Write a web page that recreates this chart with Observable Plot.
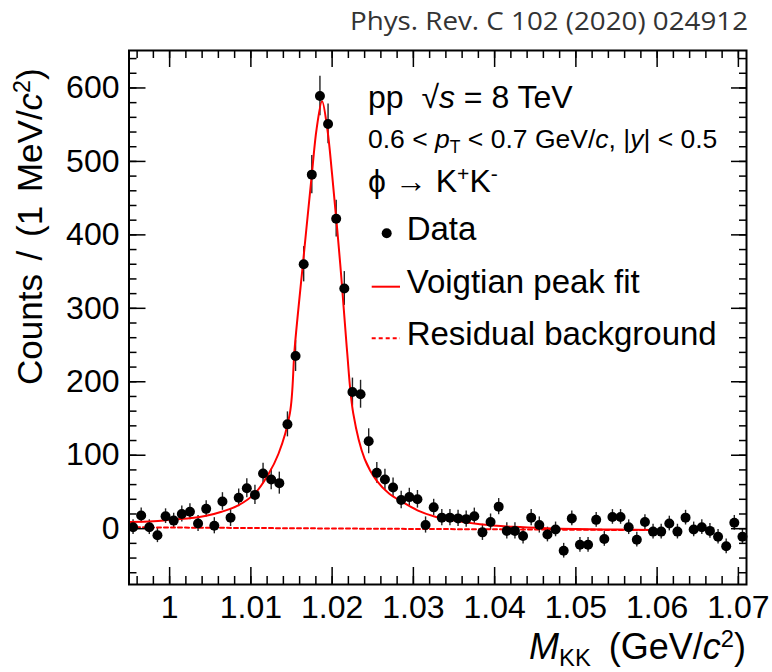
<!DOCTYPE html>
<html><head><meta charset="utf-8">
<script src="https://cdn.jsdelivr.net/npm/d3@7"></script>
<script src="https://cdn.jsdelivr.net/npm/@observablehq/plot@0.6"></script>
<style>
body{margin:0;background:#fff;}
#chart{position:relative;width:772px;height:672px;}
</style>
</head><body><div id="chart"></div>
<script>
// ---- data (bin centres in GeV/c^2, counts per 1 MeV, statistical errors) ----
const mass = [0.9955,0.9965,0.9975,0.9985,0.9995,1.0005,1.0015,1.0025,1.0035,1.0045,
1.0055,1.0065,1.0075,1.0085,1.0095,1.0105,1.0115,1.0125,1.0135,1.0145,
1.0155,1.0165,1.0175,1.0185,1.0195,1.0205,1.0215,1.0225,1.0235,1.0245,
1.0255,1.0265,1.0275,1.0285,1.0295,1.0305,1.0315,1.0325,1.0335,1.0345,
1.0355,1.0365,1.0375,1.0385,1.0395,1.0405,1.0415,1.0425,1.0435,1.0445,
1.0455,1.0465,1.0475,1.0485,1.0495,1.0505,1.0515,1.0525,1.0535,1.0545,
1.0555,1.0565,1.0575,1.0585,1.0595,1.0605,1.0615,1.0625,1.0635,1.0645,
1.0655,1.0665,1.0675,1.0685,1.0695,1.0705];
const counts = [2,18,2,-9,17,11,20,23,7,27,
4,37,15,42,55,46,75,67,62,142,
235,360,482,589,551,422,327,186,183,119,
76,67,56,39,43,40,5,29,15,15,
14,13,17,-5,9,30,-3,-3,-10,15,
5,-8,-1,-30,14,-22,-22,12,-14,16,
16,2,-15,9,-4,-4,7,-4,15,-1,
2,-3,-11,-24,8,-11];
const errors = [10,10,10,10,10,10,11,11,11,11,
11,12,12,12,13,13,14,14,15,17,
21,24,26,27,27,25,23,19,19,17,
14,14,13,12,12,12,11,11,11,11,
11,11,11,11,11,11,11,11,11,11,
11,10,10,10,10,10,10,10,10,10,
10,10,10,10,10,10,10,10,10,10,
10,10,10,10,10,10];
// Voigtian peak fit
const fitMass = [0.995,0.998,1.000,1.003,1.0045,1.0064,1.0085,1.0105,1.0121,1.0134,
1.0148,1.0154,1.0164,1.0175,1.0181,1.01876,1.0194,1.0200,1.0210,1.0218,
1.0226,1.0240,1.0255,1.0270,1.0287,1.0305,1.0325,1.0345,1.0382,1.0423,
1.0464,1.050,1.055,1.060];
const fitCounts = [9,10,12,15,17.5,23,32,48,73,102,
157,247,360,482,545,582,545,482,360,247,
157,95,65,48,36,25,17,12,6,2.5,
0.5,-0.5,-1.2,-1.8];
// residual background
const bkgMass = [0.995,1.0275,1.060];
const bkgCounts = [1.9,-0.2,-2];
// axes
const xTickValues = [1.00,1.01,1.02,1.03,1.04,1.05,1.06,1.07];
const yTickValues = [0,100,200,300,400,500,600];
const xMinorTicks = d3.range(498,536).map(i => +(i*0.002).toFixed(3));
const yMinorTicks = d3.range(-3,33).map(i => i*20);

const W = 772, H = 672, mL = 128.5, mR = 26, mT = 50, mB = 88;
const plotW = W - mL - mR, plotH = H - mT - mB;
const FONT = "'Liberation Sans', Arial, Helvetica, sans-serif";

const points = mass.map((m,i) => ({m, c: counts[i], lo: counts[i]-errors[i], hi: counts[i]+errors[i]}));
const fit = fitMass.map((m,i) => ({m, c: fitCounts[i]}));
const bkg = bkgMass.map((m,i) => ({m, c: bkgCounts[i]}));

const plot = Plot.plot({
  width: W, height: H,
  marginLeft: mL, marginRight: mR, marginTop: mT, marginBottom: mB,
  style: {fontFamily: FONT, background: "white", color: "black", overflow: "visible"},
  x: {domain: [0.995, 1.071]},
  y: {domain: [-76, 651]},
  marks: [
    Plot.ruleX(points, {x: "m", y1: "lo", y2: "hi", stroke: "#222", strokeWidth: 1.4}),
    Plot.line(bkg, {x: "m", y: "c", stroke: "#ff0000", strokeWidth: 2, strokeDasharray: "4,3"}),
    Plot.line(fit, {x: "m", y: "c", stroke: "#ff0000", strokeWidth: 2, curve: "catmull-rom"}),
    Plot.dot(points, {x: "m", y: "c", r: 5, fill: "black", stroke: "none"}),
    // ROOT-style inward ticks on all four sides
    Plot.tickX(xTickValues, {x: d => d, insetTop: plotH - 17, stroke: "black", strokeWidth: 1.5}),
    Plot.tickX(xTickValues, {x: d => d, insetBottom: plotH - 17, stroke: "black", strokeWidth: 1.5}),
    Plot.tickX(xMinorTicks, {x: d => d, insetTop: plotH - 8, stroke: "black", strokeWidth: 1.5}),
    Plot.tickX(xMinorTicks, {x: d => d, insetBottom: plotH - 8, stroke: "black", strokeWidth: 1.5}),
    Plot.tickY(yTickValues, {y: d => d, insetRight: plotW - 17, stroke: "black", strokeWidth: 1.5}),
    Plot.tickY(yTickValues, {y: d => d, insetLeft: plotW - 15, stroke: "black", strokeWidth: 1.5}),
    Plot.tickY(yMinorTicks, {y: d => d, insetRight: plotW - 8, stroke: "black", strokeWidth: 1.5}),
    Plot.tickY(yMinorTicks, {y: d => d, insetLeft: plotW - 7, stroke: "black", strokeWidth: 1.5}),
    Plot.frame({stroke: "black", strokeWidth: 2}),
    Plot.axisX({ticks: xTickValues, tickSize: 0, tickPadding: 11, fontSize: 32, label: null,
      tickFormat: d => d === 1 ? "1" : d.toFixed(2)}),
    Plot.axisY({ticks: yTickValues, tickSize: 0, tickPadding: 9.5, fontSize: 32, label: null,
      tickFormat: d => String(d)})
  ]
});
document.getElementById("chart").appendChild(plot);

// ---- rich text overlays (titles, legend) ----
const svg = d3.select(plot);
function rich(parent, x, y, size, parts, opts = {}) {
  const t = parent.append("text").attr("x", x).attr("y", y)
    .attr("font-family", opts.family || FONT).attr("font-size", size)
    .attr("fill", opts.fill || "black").attr("text-anchor", opts.anchor || "start");
  for (const p of parts) {
    const s = t.append("tspan").text(p.t);
    if (p.italic) s.attr("font-style", "italic");
    if (p.sub) s.attr("font-size", size * 0.66).attr("dy", size * 0.19);
    if (p.sup) s.attr("font-size", size * 0.66).attr("dy", -size * 0.33);
    if (p.back) s.attr("dy", p.back * size);
  }
  return t;
}
// reference
rich(svg, 748, 30, 25, [{t: "Phys. Rev. C 102 (2020) 024912"}], {anchor: "end", family: "'Open Sans', 'Noto Sans', sans-serif", fill: "#333"})
  .attr("textLength", 398).attr("lengthAdjust", "spacingAndGlyphs");
// y axis title
const gy = svg.append("g").attr("transform", "translate(42,385) rotate(-90)");
rich(gy, 0, 0, 35, [{t: "Counts / (1 MeV/"}, {t: "c", italic: true}, {t: "2", sup: true}, {t: ")", back: 0.33}]).attr("word-spacing", 4);
// x axis title
rich(svg, 746, 659, 36, [{t: "M", italic: true}, {t: "KK", sub: true}, {t: " (GeV/", back: -0.19}, {t: "c", italic: true}, {t: "2", sup: true}, {t: ")", back: 0.33}], {anchor: "end"})
  .attr("word-spacing", 8);
// annotations
rich(svg, 368, 108, 32, [{t: "pp  \u221A"}, {t: "s", italic: true}, {t: " = 8 TeV"}]);
rich(svg, 368, 148, 26.5, [{t: "0.6 < "}, {t: "p", italic: true}, {t: "T", sub: true}, {t: " < 0.7 GeV/", back: -0.19}, {t: "c", italic: true}, {t: ", |"}, {t: "y", italic: true}, {t: "| < 0.5"}]);
rich(svg, 368, 192, 32, [{t: "\u03D5 \u2192 K"}, {t: "+", sup: true}, {t: "K", back: 0.33}, {t: "-", sup: true}]);
// legend
svg.append("circle").attr("cx", 386.7).attr("cy", 233.3).attr("r", 5).attr("fill", "black");
rich(svg, 406.7, 240, 33, [{t: "Data"}]);
svg.append("line").attr("x1", 371.7).attr("x2", 400).attr("y1", 286.7).attr("y2", 286.7).attr("stroke", "#ff0000").attr("stroke-width", 2);
rich(svg, 406.7, 293, 33, [{t: "Voigtian peak fit"}]);
svg.append("line").attr("x1", 371.7).attr("x2", 400).attr("y1", 338.3).attr("y2", 338.3).attr("stroke", "#ff0000").attr("stroke-width", 2).attr("stroke-dasharray", "4,3");
rich(svg, 406.7, 345, 33, [{t: "Residual background"}]);
</script>
</body></html>
